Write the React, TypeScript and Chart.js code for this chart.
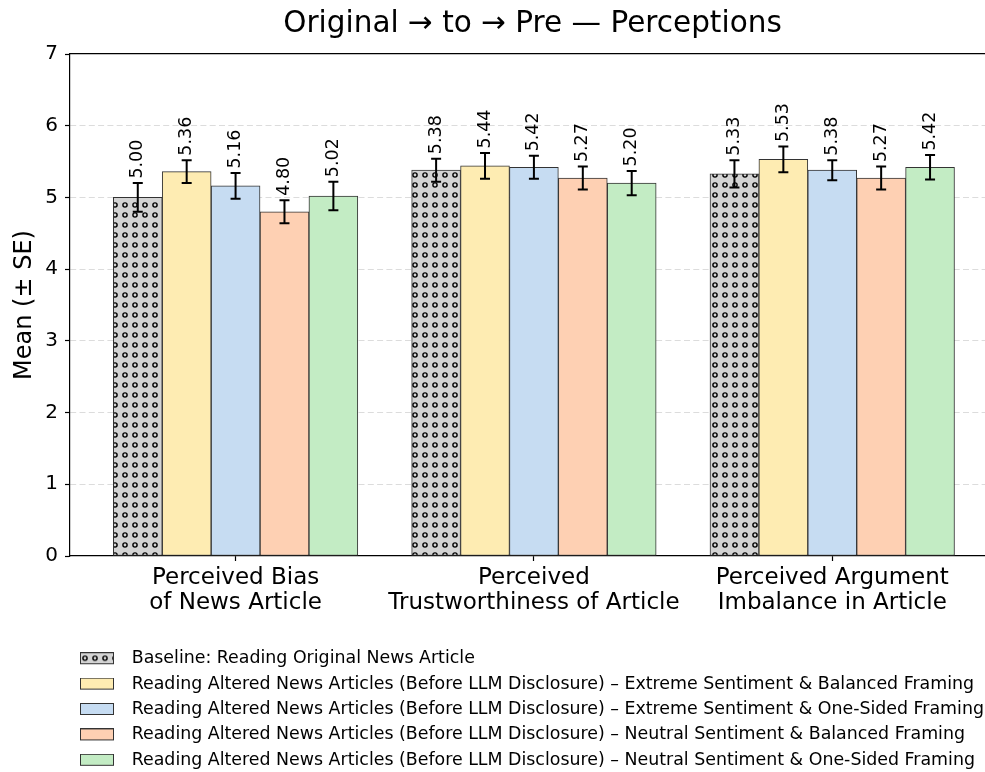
import React, { useEffect, useRef } from 'react';
import { Chart, registerables } from 'chart.js';

Chart.register(...registerables);

const FONT = "'DejaVu Sans', 'Liberation Sans', sans-serif";

const TITLE = 'Original → to → Pre — Perceptions';
const Y_TITLE = 'Mean (± SE)';
const CATEGORIES: string[][] = [
  ['Perceived Bias', 'of News Article'],
  ['Perceived', 'Trustworthiness of Article'],
  ['Perceived Argument', 'Imbalance in Article'],
];
const Y_MIN = 0;
const Y_MAX = 7;
const Y_STEP = 1;

const SERIES_LABELS = [
  'Baseline: Reading Original News Article',
  'Reading Altered News Articles (Before LLM Disclosure) – Extreme Sentiment & Balanced Framing',
  'Reading Altered News Articles (Before LLM Disclosure) – Extreme Sentiment & One-Sided Framing',
  'Reading Altered News Articles (Before LLM Disclosure) – Neutral Sentiment & Balanced Framing',
  'Reading Altered News Articles (Before LLM Disclosure) – Neutral Sentiment & One-Sided Framing',
];

const BASELINE = [5.0, 5.38, 5.33];
const BASELINE_SE = [0.2, 0.16, 0.19];
const EXT_BAL = [5.36, 5.44, 5.53];
const EXT_BAL_SE = [0.16, 0.18, 0.18];
const EXT_ONE = [5.16, 5.42, 5.38];
const EXT_ONE_SE = [0.18, 0.16, 0.14];
const NEU_BAL = [4.8, 5.27, 5.27];
const NEU_BAL_SE = [0.16, 0.16, 0.16];
const NEU_ONE = [5.02, 5.2, 5.42];
const NEU_ONE_SE = [0.2, 0.17, 0.17];

const VALUES = [BASELINE, EXT_BAL, EXT_ONE, NEU_BAL, NEU_ONE];
const ERRORS = [BASELINE_SE, EXT_BAL_SE, EXT_ONE_SE, NEU_BAL_SE, NEU_ONE_SE];
const COLORS = ['#d4d4d4', '#feecb2', '#c6dcf2', '#fed0b3', '#c3ecc4'];
const EDGE = '#333333';

const X_MIN = -0.555;
const X_MAX = 2.512;
const BAR_W = 48.9;

function makeRingPattern(): CanvasPattern | string {
  const c = document.createElement('canvas');
  c.width = 10;
  c.height = 10;
  const g = c.getContext('2d');
  if (!g) return COLORS[0];
  g.fillStyle = COLORS[0];
  g.fillRect(0, 0, 10, 10);
  g.strokeStyle = '#000';
  g.lineWidth = 1.4;
  g.beginPath();
  g.arc(5, 5, 2.1, 0, Math.PI * 2);
  g.stroke();
  const p = g.createPattern(c, 'repeat');
  return p || COLORS[0];
}

function makeSwatch(fill: CanvasPattern | string): HTMLCanvasElement {
  const c = document.createElement('canvas');
  c.width = 43;
  c.height = 13;
  const g = c.getContext('2d')!;
  g.save();
  g.translate(0, 1);
  g.fillStyle = fill as any;
  g.fillRect(0, -1, 34, 12);
  g.restore();
  g.strokeStyle = EDGE;
  g.lineWidth = 1;
  g.strokeRect(0.5, 0.5, 33, 11);
  return c;
}

const errorBarPlugin = {
  id: 'errorBars',
  afterDatasetsDraw(chart: any) {
    const ctx = chart.ctx;
    const ys = chart.scales.y;
    chart.data.datasets.forEach((ds: any, di: number) => {
      const meta = chart.getDatasetMeta(di);
      meta.data.forEach((el: any, i: number) => {
        const v = ds.data[i].y;
        const e = ds.errors[i];
        const x = el.x;
        const yT = ys.getPixelForValue(v + e);
        const yB = ys.getPixelForValue(v - e);
        ctx.save();
        ctx.strokeStyle = '#000';
        ctx.lineWidth = 2;
        ctx.beginPath();
        ctx.moveTo(x, yT);
        ctx.lineTo(x, yB);
        ctx.moveTo(x - 5, yT);
        ctx.lineTo(x + 5, yT);
        ctx.moveTo(x - 5, yB);
        ctx.lineTo(x + 5, yB);
        ctx.stroke();
        ctx.translate(x, yT - 4.5);
        ctx.rotate(-Math.PI / 2);
        ctx.font = `17.5px ${FONT}`;
        ctx.fillStyle = '#000';
        ctx.textAlign = 'left';
        ctx.textBaseline = 'middle';
        ctx.fillText(v.toFixed(2), 0, 0);
        ctx.restore();
      });
    });
  },
};

const placementPlugin = {
  id: 'placement',
  afterLayout(chart: any) {
    const lg = chart.legend;
    if (lg) {
      const w = lg.width;
      const h = lg.height;
      lg.left = 72;
      lg.right = 72 + w;
      lg.top = 642;
      lg.bottom = 642 + h;
    }
    const t = chart.titleBlock;
    if (t) {
      t.left += 40;
      t.right += 40;
    }
  },
};

export default function App() {
  const ref = useRef<HTMLCanvasElement | null>(null);

  useEffect(() => {
    document.body.style.margin = '0';
    const canvas = ref.current;
    if (!canvas) return;
    const ring = makeRingPattern();
    const fills: (CanvasPattern | string)[] = [ring, COLORS[1], COLORS[2], COLORS[3], COLORS[4]];
    const swatches = fills.map((f, i) => makeSwatch(i === 0 ? makeRingPattern() : f));

    const datasets = VALUES.map((vals, di) => ({
      label: SERIES_LABELS[di],
      data: vals.map((v, i) => ({ x: i, y: v })),
      errors: ERRORS[di],
      backgroundColor: fills[di],
      borderColor: EDGE,
      borderWidth: 1,
      borderSkipped: false,
      barThickness: BAR_W,
    }));

    const chart = new Chart(canvas, {
      type: 'bar',
      data: { datasets: datasets as any },
      options: {
        animation: false,
        responsive: false,
        devicePixelRatio: 1,
        layout: { padding: { left: 0, right: 0, top: 0, bottom: 0 } },
        plugins: {
          title: {
            display: true,
            text: TITLE,
            color: '#000',
            font: { family: FONT, size: 29.5, weight: 'normal' as any },
            padding: { top: 7, bottom: 11.6 },
          },
          legend: {
            position: 'bottom',
            align: 'start',
            labels: {
              usePointStyle: true,
              pointStyleWidth: 43,
              boxHeight: 12,
              padding: 8,
              color: '#000',
              font: { family: FONT, size: 17.4 },
              generateLabels: (c: any) =>
                c.data.datasets.map((ds: any, i: number) => ({
                  text: ds.label,
                  pointStyle: swatches[i],
                  fillStyle: 'rgba(0,0,0,0)',
                  strokeStyle: 'rgba(0,0,0,0)',
                  lineWidth: 0,
                  hidden: false,
                  datasetIndex: i,
                  fontColor: '#000',
                })),
            },
          },
          tooltip: { enabled: false },
        },
        scales: {
          x: {
            type: 'linear',
            position: 'bottom',
            offset: false,
            min: X_MIN,
            max: X_MAX,
            afterBuildTicks: (s: any) => {
              s.ticks = CATEGORIES.map((_, i) => ({ value: i }));
            },
            afterFit: (s: any) => {
              s.height = 79;
              s.paddingLeft = 0;
              s.paddingRight = 0;
            },
            ticks: {
              callback: (v: any) => CATEGORIES[Math.round(Number(v))],
              color: '#000',
              font: { family: FONT, size: 23, lineHeight: 25 / 23 },
              padding: 5,
              autoSkip: false,
              maxRotation: 0,
              minRotation: 0,
            },
            grid: {
              display: true,
              offset: false,
              drawOnChartArea: false,
              drawTicks: true,
              tickLength: 5,
              tickColor: '#000',
              tickWidth: 1.2,
            },
            border: { display: true, color: '#000', width: 1.2 },
          },
          xTop: {
            type: 'linear',
            position: 'top',
            offset: false,
            min: X_MIN,
            max: X_MAX,
            afterFit: (s: any) => {
              s.height = 0;
              s.paddingLeft = 0;
              s.paddingRight = 0;
            },
            ticks: { display: false },
            grid: { display: false, offset: false },
            border: { display: true, color: '#000', width: 1.2 },
          },
          y: {
            type: 'linear',
            min: Y_MIN,
            max: Y_MAX,
            afterFit: (s: any) => {
              s.width = 70;
            },
            ticks: {
              stepSize: Y_STEP,
              color: '#000',
              font: { family: FONT, size: 20 },
              padding: 7,
            },
            grid: {
              color: (c: any) => {
                const v = c.tick ? c.tick.value : null;
                return v === Y_MIN || v === Y_MAX ? 'rgba(0,0,0,0)' : '#dcdcdc';
              },
              lineWidth: 1,
              drawTicks: true,
              tickLength: 5,
              tickColor: '#000',
              tickWidth: 1.2,
              tickBorderDash: [],
            },
            border: { display: true, color: '#000', width: 1.2, dash: [6, 3.3] },
            title: {
              display: true,
              text: Y_TITLE,
              color: '#000',
              font: { family: FONT, size: 24 },
              padding: { top: 10, bottom: 0 },
            },
          },
        },
      } as any,
      plugins: [errorBarPlugin, placementPlugin],
    });

    return () => chart.destroy();
  }, []);

  return <canvas ref={ref} width={985} height={772} style={{ display: 'block' }} />;
}
